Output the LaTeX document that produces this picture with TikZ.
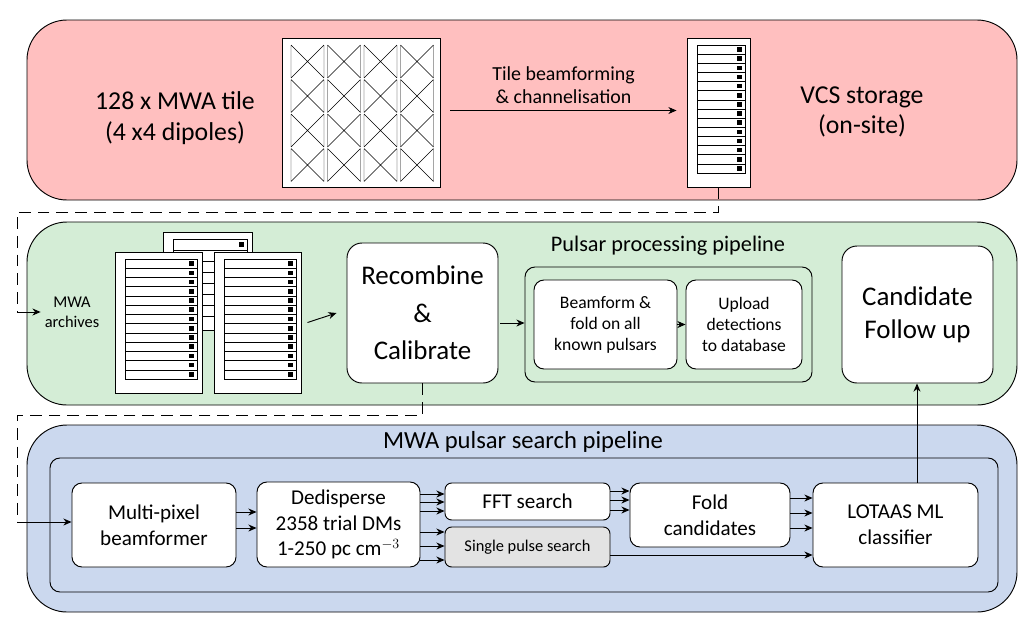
\documentclass[tikz,border=0pt]{standalone}
\usepackage{fontspec}
\setmainfont{Carlito}
\usetikzlibrary{fit,arrows.meta,calc}
\definecolor{redbg}{HTML}{FFBFBF}
\definecolor{greenbg}{HTML}{D4EDD6}
\definecolor{bluebg}{HTML}{CBD8EE}
\definecolor{graybox}{HTML}{E3E3E3}
\newcommand\fs[1]{\fontsize{#1pt}{\the\numexpr#1*12/10\relax pt}\selectfont}
\newcommand\myrack[6]{% name x1 y1 x2 y2 n
  \node[draw,thick,fill=white,inner sep=0,fit={(#2,#3)(#4,#5)}] (#1) {};
  \pgfmathsetmacro\rh{((#5-14)-(#3+7))/#6}
  \foreach \i in {1,...,#6}{
    \pgfmathsetmacro\ya{#3+7+(\i-1)*\rh}
    \pgfmathsetmacro\yb{\ya+\rh}
    \draw[fill=white] (#2+10,\ya) rectangle (#4-5,\yb);
    \fill ($(#4-13,\ya+0.25*\rh)$) rectangle ($(#4-8,\yb-0.25*\rh)$);
  }}
\begin{document}
\begin{tikzpicture}[x=0.03cm,y=-0.03cm,
  panel/.style={draw,thick,rounded corners=1.2cm,inner sep=0},
  box/.style={draw,thick,fill=white,rounded corners=0.45cm,inner sep=0,align=center},
  sbox/.style={draw,thick,fill=white,rounded corners=0.3cm,inner sep=0,align=center},
  arr/.style={-{Stealth[length=7pt,width=6pt]},thick},
  dashlink/.style={thick,dash pattern=on 10pt off 6pt}]
\useasboundingbox (0,0) rectangle (1030,632);
% panels
\node[panel,fill=redbg,fit={(27,20)(1017,200)}] (red) {};
\node[panel,fill=greenbg,fit={(27,222)(1017,405)}] (green) {};
\node[panel,fill=bluebg,fit={(27,425)(1017,612)}] (blue) {};
% top row
\node[align=center,font=\fs{22}] (tiletxt) at (175,118) {128 x MWA tile\\(4 x4 dipoles)};
\node[draw,thick,fill=white,inner sep=0,fit={(282,38)(440,187)}] (tile) {};
\foreach \c in {0,...,3}{\foreach \r in {0,...,3}{
  \pgfmathsetmacro\xl{291+\c*36.5}\pgfmathsetmacro\xr{\xl+33}
  \pgfmathsetmacro\yt{45+\r*34.5}\pgfmathsetmacro\yb{\yt+33}
  \draw (\xl,\yt)--(\xr,\yb) (\xl,\yb)--(\xr,\yt) (\xl,\yt)--(\xl,\yb) (\xr,\yt)--(\xr,\yb);}}
\myrack{vcs}{687}{38}{750}{187}{14}
\node[align=center,font=\fs{22}] (vcstxt) at (862,112) {VCS storage\\(on-site)};
\draw[arr] ($(tile.east)+(10,-2)$) -- ($(vcs.west)+(-10,-2)$) node[midway,above=2pt,align=center,font=\fs{17}] (tbf) {Tile beamforming\\\& channelisation};
% green row
\node[align=center,font=\fs{14}] (arch) at (72,312) {MWA\\archives};
\myrack{r0}{163}{232}{252}{330}{7}
\myrack{r1}{115}{252}{202}{393}{13}
\myrack{r2}{214}{252}{301}{393}{13}
\node[box,fit={(347,243)(498,383)}] (rec) {};
\node[align=center,font=\fs{23}] at (rec) {Recombine\\[4pt]\&\\[4pt]Calibrate};
\node[sbox,fit={(525,267)(812,382)},fill=greenbg] (ppp) {};
\node[font=\fs{19}] (ppt) at (668,246) {Pulsar processing pipeline};
\node[sbox,fit={(534,280)(677,369)}] (bf) {};
\node[align=center,font=\fs{15}] at (bf) {Beamform \&\\fold on all\\known pulsars};
\node[sbox,fit={(686,280)(802,369)}] (up) {};
\node[align=center,font=\fs{15}] at (up) {Upload\\detections\\to database};
\node[box,fit={(842,246)(993,383)}] (cand) {};
\node[align=center,font=\fs{23}] at (cand) {Candidate\\Follow up};
\draw[arr] ($(r2.east)+(6,0)$) -- ($(rec.west)+(-10,0)$);
\draw[arr] (500,323) -- (ppp.west|-0,323);
\draw[arr] (bf.east) -- (up.west);
% dashed connectors
\draw[dashlink] (vcs.south) -- (vcs.south|-0,212) -- (17,212) -- (17,312);
\draw[arr] (17,312) -- (arch.west);
\draw[dashlink] (rec.south) -- (rec.south|-0,415) -- (17,415) -- (17,522);
% blue
\node[font=\fs{21}] (bpt) at (523,442) {MWA pulsar search pipeline};
\node[sbox,fill=bluebg,fit={(50,458)(998,592)}] (inner) {};
\node[sbox,fit={(72,483)(236,567)}] (mp) {};
\node[align=center,font=\fs{18}] at (mp) {Multi-pixel\\beamformer};
\node[sbox,fit={(257,482)(420,567)}] (dd) {};
\node[align=center,font=\fs{18}] at (dd) {Dedisperse\\2358 trial DMs\\1-250 pc cm$^{-3}$};
\node[sbox,rounded corners=0.2cm,fit={(445,483)(610,520)}] (fft) {};
\node[font=\fs{18}] at (fft) {FFT search};
\node[sbox,rounded corners=0.2cm,fill=graybox,fit={(445,527)(610,567)}] (sp) {};
\node[font=\fs{14}] at (sp) {Single pulse search};
\node[sbox,fit={(630,483)(790,547)}] (fold) {};
\node[align=center,font=\fs{18}] at (fold) {Fold\\candidates};
\node[sbox,fit={(813,483)(978,567)}] (lot) {};
\node[align=center,font=\fs{18}] at (lot) {LOTAAS ML\\classifier};
\draw[arr] (17,522) -- (mp.west|-0,522);
\foreach \y in {512,528} \draw[arr] (mp.east|-0,\y) -- (dd.west|-0,\y);
\foreach \y in {494,502,511} \draw[arr] (dd.east|-0,\y) -- (fft.west|-0,\y);
\foreach \y in {532,546,560} \draw[arr] (dd.east|-0,\y) -- (sp.west|-0,\y);
\foreach \y in {491,500,510} \draw[arr] (fft.east|-0,\y) -- (fold.west|-0,\y);
\foreach \y in {498,513,528} \draw[arr] (fold.east|-0,\y) -- (lot.west|-0,\y);
\draw[arr] (sp.east|-0,555) -- (lot.west|-0,555);
\draw[arr] (lot.north-|917,0) -- (cand.south-|917,0);
\end{tikzpicture}
\end{document}
